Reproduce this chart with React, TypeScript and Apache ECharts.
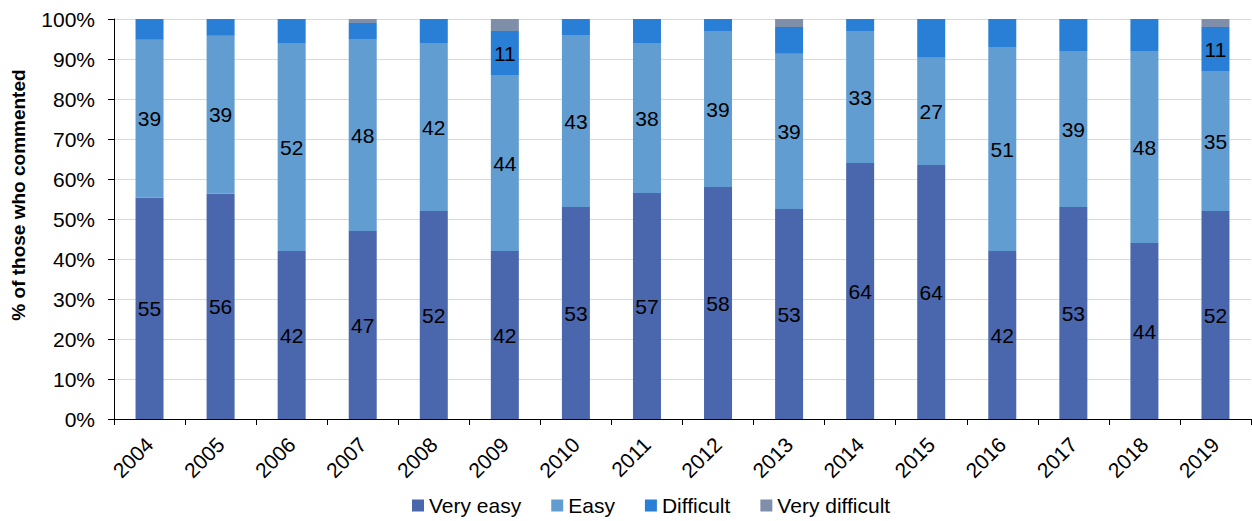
import React, { useEffect, useRef } from "react";
import * as echarts from "echarts";

const years = ["2004","2005","2006","2007","2008","2009","2010","2011","2012","2013","2014","2015","2016","2017","2018","2019"];
const veryEasy = [55.4, 56.4, 42, 47, 52, 42, 53, 56.5, 58, 52.5, 64, 63.5, 42, 53, 44, 52];
const easy = [39.4, 39.4, 52, 48, 42, 44, 43, 37.5, 39, 38.8, 33, 26.8, 51, 39, 48, 35];
const difficult = [5.2, 4.2, 6, 4, 6, 11, 4, 6, 3, 6.7, 3, 9.7, 7, 8, 8, 11];
const veryDifficult = [0, 0, 0, 1, 0, 3, 0, 0, 0, 2, 0, 0, 0, 0, 0, 2];
const yTicks = [0, 10, 20, 30, 40, 50, 60, 70, 80, 90, 100];

const FONT = "'Liberation Sans', Arial, sans-serif";

export default function App() {
  const ref = useRef<HTMLDivElement>(null);
  useEffect(() => {
    if (!ref.current) return;
    const chart = echarts.init(ref.current, null, { renderer: "svg" });
    const label = (min: number) => ({
      show: true,
      position: "inside",
      color: "#000",
      fontSize: 21,
      fontFamily: FONT,
      formatter: (p: any) => (p.value >= min ? String(Math.round(p.value)) : ""),
    });
    const mk = (name: string, data: number[], color: string, lbl: any) => ({
      name,
      type: "bar",
      stack: "total",
      data,
      barWidth: 28,
      itemStyle: { color },
      label: lbl,
    });
    chart.setOption({
      animation: false,
      textStyle: { fontFamily: FONT },
      grid: { left: 114, right: 1, top: 19, bottom: 102, containLabel: false },
      legend: {
        left: 407,
        top: 490,
        itemWidth: 12,
        itemHeight: 12,
        itemGap: 30,
        icon: "rect",
        textStyle: { fontSize: 21, color: "#000", fontFamily: FONT },
        data: ["Very easy", "Easy", "Difficult", "Very difficult"],
      },
      xAxis: {
        type: "category",
        data: years,
        axisLine: { lineStyle: { color: "#000", width: 1 } },
        axisTick: { show: true, length: 6, lineStyle: { color: "#000" } },
        axisLabel: { rotate: 45, fontSize: 21, color: "#000", fontFamily: FONT, margin: 22 },
      },
      yAxis: {
        type: "value",
        min: yTicks[0],
        max: yTicks[yTicks.length - 1],
        interval: 10,
        name: "% of those who commented",
        nameLocation: "middle",
        nameGap: 86,
        nameTextStyle: { fontSize: 19, fontWeight: "bold", color: "#000", fontFamily: FONT, padding: [0, 0, 0, 48] },
        axisLine: { show: true, lineStyle: { color: "#000", width: 1 } },
        axisTick: { show: true, length: 6, lineStyle: { color: "#000" } },
        axisLabel: { formatter: "{value}%", fontSize: 21, color: "#000", fontFamily: FONT, margin: 19 },
        splitLine: { show: true, lineStyle: { color: "#D9D9D9", width: 1 } },
      },
      series: [
        mk("Very easy", veryEasy, "#4A66AC", label(0)),
        mk("Easy", easy, "#629DD1", label(0)),
        mk("Difficult", difficult, "#297FD5", label(10.5)),
        mk("Very difficult", veryDifficult, "#7F8FA9", { show: false }),
      ],
    });
    return () => chart.dispose();
  }, []);
  return <div ref={ref} style={{ position: "absolute", left: 0, top: 0, width: 1252, height: 521 }} />;
}
